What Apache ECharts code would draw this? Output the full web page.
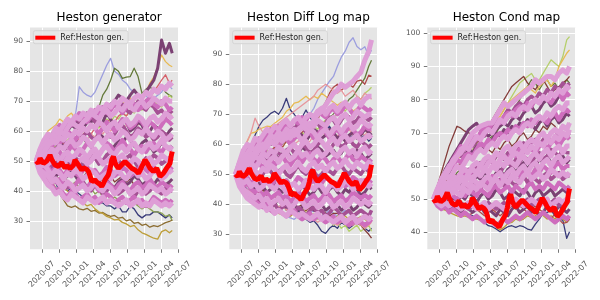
<!DOCTYPE html>
<html><head><meta charset="utf-8">
<script src="https://cdn.jsdelivr.net/npm/echarts@6/dist/echarts.min.js"></script>
<style>html,body{margin:0;padding:0;background:#fff}#c{width:600px;height:300px}</style>
</head><body><div id="c"></div>
<script>
// ---- shared dates ----
const dates = ['2020-06-01','2020-06-22','2020-07-13','2020-08-03','2020-08-24','2020-09-14','2020-10-05','2020-10-26','2020-11-16','2020-12-07','2020-12-28','2021-01-18','2021-02-08','2021-03-01','2021-03-22','2021-04-12','2021-05-03','2021-05-24','2021-06-14','2021-07-05','2021-07-26','2021-08-16','2021-09-06','2021-09-27','2021-10-18','2021-11-08','2021-11-29','2021-12-20','2022-01-10','2022-01-31','2022-02-21','2022-03-14','2022-04-04','2022-04-25','2022-05-16','2022-05-31'];
const xTickLabels = ['2020-07','2020-10','2021-01','2021-04','2021-07','2021-10','2022-01','2022-04','2022-07'];
const titles = ['Heston generator','Heston Diff Log map','Heston Cond map'];
const refName = 'Ref:Heston gen.';
const yTicksGen = [30,40,50,60,70,80,90];
const yTicksDiff = [30,40,50,60,70,80,90];
const yTicksCond = [40,50,60,70,80,90,100];

// ---- reference path (same in all panels) ----
const refDates = ['2020-06-01','2020-06-08','2020-06-13','2020-06-22','2020-07-01','2020-07-10','2020-07-19','2020-07-28','2020-08-06','2020-08-14','2020-08-24','2020-09-02','2020-09-10','2020-09-19','2020-09-28','2020-10-07','2020-10-16','2020-10-25','2020-11-03','2020-11-12','2020-11-21','2020-11-30','2020-12-09','2020-12-18','2020-12-26','2021-01-04','2021-01-13','2021-01-22','2021-01-31','2021-02-09','2021-02-18','2021-02-27','2021-03-08','2021-03-17','2021-03-26','2021-04-04','2021-04-12','2021-04-21','2021-04-30','2021-05-09','2021-05-18','2021-05-27','2021-06-05','2021-06-14','2021-06-23','2021-07-02','2021-07-11','2021-07-20','2021-07-29','2021-08-07','2021-08-16','2021-08-25','2021-09-02','2021-09-11','2021-09-20','2021-09-29','2021-10-08','2021-10-17','2021-10-26','2021-11-04','2021-11-13','2021-11-22','2021-12-01','2021-12-10','2021-12-19','2021-12-28','2022-01-05','2022-01-14','2022-01-23','2022-02-01','2022-02-10','2022-02-19','2022-02-28','2022-03-09','2022-03-18','2022-03-27','2022-04-05','2022-04-14','2022-04-23','2022-05-01','2022-05-10','2022-05-19','2022-05-25','2022-05-31'];
const refVals = [50,50.5,49.2,50.9,50,49.2,49.8,50,51,52,50.4,49.5,48.7,48.9,48.2,48.6,49.5,48.4,47.6,48.5,48.2,47.5,47,48.6,50.4,49.8,48.7,47.8,47,47.8,47.6,47.2,46.5,45,43.1,43.4,43.7,43,42.6,42.2,41.5,42.5,43.7,44.2,45.4,47.5,50.4,51.5,49.3,48.3,47.6,48.2,48.7,49.3,49.8,49.2,48.7,48.2,47.6,47.3,47,46.5,45.9,46.9,48.2,49.2,50.4,49.8,48.6,47.6,47,46.5,47,47.6,46.2,44.8,45.4,45.9,46.8,47.6,48.4,49.2,51.5,53.2];

// ---- panel 1: Heston generator ----
const g00 = [50,49,47,46,44,43,39,41,40,41,40,39,38,38,37,37,36,36,35,35,34,35,33,33,35,34,32,31,32,32,33,33,32,31,32,31];
const g01 = [50,52,53,55,56,55,57,58,60,62,65,74.8,73,72,71.4,73,76,79,82,84.3,80,79,77,76,74,73,72,71,72,70,71,72,73,75.4,75,74];
const g02 = [50,51,53,54,53,55,56,57,58,59,60,61,62,63,64,66,68,72,74,77,81,80,77.6,78,78.2,81,78.2,72.6,74,75,73,74,75,73,72,71.5];
const g03 = [50,49,48,47,46,45,44,45,43,42,43,41,42,40,41,39,40,38,39,37,38,37,36,37,35,36,35,34,35,34,33,33,32.6,31.5,32,30];
const g04 = [50,51,52,53,54,55,54,56,57,58,57,59,60,59,61,62,61,63,64,63,65,64,66,65,67,66,68,67,69,68,70,69,68,70,72,71];
const g05 = [50,48,47,45,43,41,39,37,35,34.5,35,34,33.7,34.2,33.2,33.5,32.6,32.8,32,31.5,31.8,30.9,31.2,30,30.4,29.2,29.5,28.5,28.9,27.9,28.4,28.1,28.7,29.4,29.8,30.3];
const g06 = [50,48,47,46,44,43,42,41,40,39,38,37,36,35,35.5,34,33,32.5,31.5,31,30.3,30.5,29.5,29,28.1,28.5,27,26,25.5,24.8,24.2,23.9,26.4,27,26,26.8];
const g07 = [50,54,57,60,61,62,64,63,65,66,64,65,63,64,65,66,67,66,68,69,70,68,69,70,71,70,72,71.4,73,76,78,81.4,85.4,83.2,82,81.5];
const g08 = [50,49,51,50,52,51,50,49,51,50,48,49,47,48,46,47,45,46,44,45,43,44,45,43,44,42,43,41,42,43,41,42,40,41,42,40];
const g09 = [50,52,51,53,54,53,55,56,55,57,58,57,59,60,59,61,62,61,63,64,63,65,66,65,67,68,69,68,70,71,73,75,77,78.8,76,77];
const g10 = [50,51,53,52,54,53,55,54,56,55,57,56,58,57,59,58,60,59,61,60,62,61,60,62,61,63,62,64,63,65,64,63,65,64,66,65];
const g11 = [50,53,55,57,59,61,62,61,60,62,61,63,62,64,63,65,66,68,67,69,70,72,71,70,72,73.7,72,71.4,73,75,77,81,90.4,86,89.3,86];
const g12 = [50,53,55,54,57,59,58,61,60,63,62,64,61,63,65,64,62,63,66,64,61,62,64,63,60,61,63,62,59,60,62,61,59,58,60,61];
const g13 = [50,51,50,53,52,54,56,55,53,55,57,56,58,56,55,57,59,58,56,54,55,57,56,58,57,55,54,56,57,55,53,54,56,55,54,55];
const g14 = [50,48,49,46,47,45,46,44,45,47,45,43,44,46,44,42,43,45,44,42,41,43,44,42,43,45,44,42,43,41,42,44,43,42,43,44];
const g15 = [50,53,56,55,58,60,59,62,61,63,65,63,64,66,65,63,66,68,67,65,66,68,69,67,66,68,70,68,67,69,68,66,67,65,67,66];
const g16 = [50,52,51,54,55,53,56,57,55,58,57,59,58,60,58,57,59,61,60,58,59,61,62,60,58,59,61,60,58,59,57,58,60,59,57,58];
const g17 = [50,49,51,50,48,49,51,52,50,49,51,50,48,50,52,51,49,50,52,53,51,50,49,51,52,50,48,49,51,50,52,51,49,50,51,50];
const g18 = [50,47,46,44,45,43,42,43,41,42,40,41,43,41,40,42,41,39,40,42,41,39,40,41,39,38,40,41,39,40,42,40,39,41,40,40];
const g19 = [50,54,56,58,57,60,62,61,63,62,64,66,65,63,65,67,66,68,66,67,69,68,66,68,70,69,67,68,70,71,69,68,70,69,67,68];
const g20 = [50,52,54,53,55,57,56,58,60,59,57,59,61,60,62,61,59,61,63,62,60,62,64,63,61,62,64,63,61,63,62,60,62,64,63,62];
const g21 = [50,51,53,51,52,54,53,51,53,55,54,52,54,56,55,53,52,54,56,55,53,55,57,55,54,52,54,55,53,55,56,54,53,55,54,54];
const g22 = [50,49,47,48,46,48,47,45,47,48,46,45,47,48,46,47,45,46,48,47,45,46,48,47,45,46,47,49,47,46,48,46,45,47,48,47];
const g23 = [50,48,46,47,44,43,44,42,43,41,42,44,42,41,43,42,40,41,43,42,40,42,43,41,40,42,43,41,42,44,42,41,43,42,41,42];
const g24 = [50,47,45,43,42,40,41,39,38,40,39,37,38,39,37,38,36,37,39,38,36,37,38,36,37,38,36,37,35,36,38,37,36,37,36,37];
const g25 = [50,54,57,59,58,61,60,62,64,63,65,64,66,65,67,66,68,67,69,68,70,69,71,70,69,71,72,71,73,72,74,73,75,74,76,75];
const g26 = [50,53,55,57,56,58,60,59,61,63,62,61,63,64,66,65,64,66,67,65,66,68,67,69,68,67,69,70,68,69,71,70,69,71,70,70];
const g27 = [50,52,53,55,57,56,58,57,59,58,60,59,61,60,62,61,63,62,60,62,63,61,63,64,62,63,65,64,62,64,65,63,64,66,65,64];
const g28 = [50,51,53,52,54,53,55,54,56,57,55,56,58,57,55,57,58,56,58,59,57,58,60,59,57,58,60,59,61,59,58,60,59,57,58,59];
const g29 = [50,52,50,51,53,52,50,52,53,51,52,54,53,51,53,54,52,54,55,53,52,54,55,53,55,56,54,53,55,56,54,55,57,55,54,55];
const g30 = [50,49,51,49,50,52,50,49,51,50,48,50,51,49,50,52,51,49,50,51,49,51,52,50,49,51,50,48,50,51,49,50,52,51,50,51];
const g31 = [50,48,49,47,45,47,46,44,46,45,47,46,44,45,47,46,44,45,46,44,46,47,45,44,46,47,45,46,44,45,47,46,44,45,47,46];
const g32 = [50,47,46,45,43,44,42,41,43,42,40,41,42,40,41,43,41,40,42,41,39,40,42,41,39,40,41,39,40,42,41,40,41,39,40,41];
const g33 = [50,46,44,42,41,39,40,38,37,39,38,37,36,38,37,36,37,38,36,37,36,35,36,37,35,36,37,35,36,35,37,36,35,36,35,36];
const genLines = [g00,g01,g02,g03,g04,g05,g06,g07,g08,g09,g10,g11,g12,g13,g14,g15,g16,g17,g18,g19,g20,g21,g22,g23,g24,g25,g26,g27,g28,g29,g30,g31,g32,g33];
const genColors = ['#393b79','#9c9ede','#637939','#8ca252','#b5cf6b','#8c6d31','#bd9e39','#e7ba52','#843c39','#d6616b','#e7969c','#7b4173',
 '#7b4173','#7b4173','#7b4173','#a55194','#a55194','#a55194','#a55194','#ce6dbd','#ce6dbd','#ce6dbd','#ce6dbd','#ce6dbd','#ce6dbd',
 '#de9ed6','#de9ed6','#de9ed6','#de9ed6','#de9ed6','#de9ed6','#de9ed6','#de9ed6','#de9ed6'];

// ---- panel 2: Heston Diff Log map ----
const d00 = [50,53,56,58,60,63,66,68,69,70.3,71,70,72,75.3,71.4,70,68,69,71.4,69,67,68,66,65,66,64,65,63,64,62,63,64,62,63,61,62];
const d01 = [50,48,46,45,44,43,42,43,41,40,41,39,40,38,39,37,38,36,35,34,34.5,33,31,30.3,32,33,32,34,33,32,33,34,33,32,31,32];
const d02 = [50,52,53,55,56,57,58,59,58,60,61,62,63,64,63,65,66,67,68,70,72,75,77,79,81,82.6,86,89,91,94,95.5,92.6,91.5,92.5,89.5,91.4];
const d03 = [50,48,47,45,44,43,42,41,40,39,38,37,37,36,35.5,35,36,37,36,37,38,37,36,37,38,37,36,37,38,37,36,37,38,37,36,37];
const d04 = [50,51,53,52,54,55,56,55,57,58,57,59,60,61,60,62,63,62,64,65,66,67,66,68,69,70,72,71,73,75,76,78,80,82,86,88];
const d05 = [50,52,51,53,54,56,55,57,58,57,59,60,59,61,62,61,63,64,63,65,66,65,67,68,67,69,70,72,71,73,74,76,75,77,78,79];
const d06 = [50,49,48,46,47,45,44,45,43,42,43,41,40,41,39,40,38,39,37,36,37,35,36,34,35,33,34,32,33,31,32,33,31,32,33,31];
const d07 = [50,47,45.9,44,42.6,41.5,40.5,40,39.2,38,37.5,37,36.5,36.4,36,37,36,37,38,37,36,37,38,37,36,35,36,37,36,35,34,35,36,35,34,35];
const d08 = [50,54,58,61,63.7,64,65,65.5,66,65.9,67,68,69,71,72,73.7,74,75,76,74.8,76,75.3,77,76,75,74,73,74,72,73,71,72,73,72,71,72];
const d09 = [50,49,48,47,46,45,44,45,43,42,43,41,42,40,41,40,39,40,38,39,38,37,38,37,36,37,37,35.9,35,34,34.5,33.7,33,31.4,30,28.7];
const d10 = [50,52,51,53,55,54,56,57,56,58,59,60,59,61,62,63,62,64,65,66,67,68,72,74,77,79,80,78,79,80,79,81,81.4,80,83,82.6];
const d11 = [50,54,58,61,64,68.7,66,64,65,63,64,62,63,61,62,60,61,62,60,61,63,62,64,63,62,61,63,62,64,65,63,62,64,63,65,64];
const d12 = [50,48,46,45,44,43,42,41,42,40,41,39,40,38,39,38,37,36,35,36,35,34,35,36,35,34,33,34,35,34,33,34,33,32,33,34];
const d13 = [50,52,54,56,58,60,62,63,64,65,66,67,68,69,70,71,72,73,74,75,76,78,79,80,79,78,77,78,76,77,78,76,75,77,76,75];
const d14 = [50,52,55,54,56,58,57,59,61,60,62,61,63,62,60,62,64,63,61,63,65,64,62,63,65,64,62,63,61,63,64,62,63,65,64,63];
const d15 = [50,51,53,52,54,53,55,56,54,56,57,55,57,58,56,55,57,59,58,56,57,59,58,56,57,58,56,57,59,57,56,58,57,55,56,57];
const d16 = [50,47,45,44,43,41,42,40,41,39,40,42,40,39,41,40,38,39,41,40,38,39,40,38,39,41,40,38,39,40,38,39,41,40,39,40];
const d17 = [50,48,47,48,46,45,47,46,44,45,47,45,44,46,45,43,44,46,45,43,44,46,44,43,45,46,44,43,45,44,46,45,43,44,46,45];
const d18 = [50,53,56,58,57,60,59,61,63,62,64,63,65,64,66,65,67,66,64,66,68,67,65,67,69,68,66,68,70,69,67,68,70,69,68,69];
const d19 = [50,52,51,53,55,54,56,55,57,56,58,57,56,58,59,57,58,60,59,57,58,60,61,59,58,60,61,59,60,62,60,59,61,60,59,60];
const d20 = [50,49,51,50,52,51,49,50,52,51,49,51,52,50,49,51,53,51,50,52,51,49,50,52,51,50,52,53,51,50,52,51,50,52,51,51];
const d21 = [50,47,46,44,42,43,41,40,41,39,40,38,39,40,38,37,39,38,36,38,39,37,38,36,37,39,38,36,37,38,36,37,38,37,36,38];
const d22 = [50,54,57,59,58,61,62,61,63,65,64,66,65,67,66,68,67,69,68,70,69,71,70,69,71,72,70,71,73,72,70,71,73,72,71,72];
const d23 = [50,52,54,56,55,57,58,57,59,61,60,59,61,62,60,62,63,61,63,64,62,63,65,64,62,64,65,63,64,66,65,63,64,66,65,65];
const d24 = [50,51,53,52,51,53,54,52,54,55,53,55,56,54,53,55,56,54,56,57,55,54,56,55,53,55,56,54,55,57,55,54,56,55,54,55];
const d25 = [50,49,48,49,47,48,49,47,48,46,48,49,47,48,46,47,49,48,46,47,48,46,47,49,48,46,47,48,46,47,49,48,47,48,47,48];
const d26 = [50,48,46,47,45,44,45,43,44,42,43,44,42,43,41,42,44,43,41,42,43,41,42,44,43,41,42,43,41,42,44,43,42,43,42,43];
const d27 = [50,47,45,43,42,41,40,39,40,38,37,38,37,36,37,38,36,35,36,37,35,36,35,34,35,36,34,35,34,33,34,35,34,33,34,35];
const d28 = [50,54,58,60,59,62,61,63,65,64,66,65,67,68,66,68,69,67,69,70,69,71,72,70,72,73,71,73,74,72,74,75,73,75,76,76];
const d29 = [50,53,55,57,59,58,60,59,61,63,62,64,63,65,64,63,65,66,65,67,66,68,67,66,68,69,67,69,70,68,69,71,70,69,70,70];
const d30 = [50,52,54,55,57,56,58,60,59,61,60,62,61,63,62,64,63,61,63,65,64,62,64,65,63,65,66,64,66,67,65,66,68,67,66,67];
const d31 = [50,51,53,55,54,56,55,57,56,58,57,59,58,57,59,60,58,60,61,59,60,62,61,59,61,62,60,62,63,61,62,63,61,62,63,62];
const d32 = [50,52,51,53,54,52,54,55,53,55,56,54,56,57,55,56,58,56,57,55,57,58,56,57,59,57,56,58,59,57,58,56,58,59,57,58];
const d33 = [50,49,51,50,52,51,50,52,51,53,52,50,52,53,51,52,54,52,51,53,54,52,53,51,53,54,52,53,55,53,52,54,53,52,54,53];
const d34 = [50,48,47,48,46,47,45,46,48,46,45,47,46,44,46,47,45,46,48,46,45,47,46,44,46,47,45,46,48,47,45,46,48,47,46,47];
const d35 = [50,47,45,44,43,42,43,41,42,40,41,42,40,41,39,40,42,41,39,40,41,39,40,42,41,39,40,41,39,40,42,41,40,41,40,41];
const d36 = [50,46,44,42,41,40,39,40,38,39,37,38,37,36,38,37,36,37,36,35,36,37,35,36,35,34,35,36,34,35,36,34,35,36,35,36];
const d37 = [50,52,54,56,55,57,59,58,60,61,60,62,63,62,64,65,64,66,67,66,68,70,71,73,75,77,78,80,79,80,81,82.6,84,88,91,94.8];
const diffLines = [d00,d01,d02,d03,d04,d05,d06,d07,d08,d09,d10,d11,d12,d13,d14,d15,d16,d17,d18,d19,d20,d21,d22,d23,d24,d25,d26,d27,d28,d29,d30,d31,d32,d33,d34,d35,d36,d37];
const diffColors = ['#393b79','#393b79','#9c9ede','#9c9ede','#637939','#b5cf6b','#b5cf6b','#bd9e39','#e7ba52','#843c39','#ad494a','#e7969c','#e7969c','#e7969c',
 '#7b4173','#7b4173','#7b4173','#7b4173','#a55194','#a55194','#a55194','#a55194','#ce6dbd','#ce6dbd','#ce6dbd','#ce6dbd','#ce6dbd','#ce6dbd',
 '#de9ed6','#de9ed6','#de9ed6','#de9ed6','#de9ed6','#de9ed6','#de9ed6','#de9ed6','#de9ed6','#de9ed6'];

// ---- panel 3: Heston Cond map ----
const c00 = [50,49,48.5,48,48,47.5,47.7,47,46,45.5,45,44.7,44,43,42,41.7,41,40.2,41,41.7,42,41.5,42,41.7,41,40.7,42.5,44,45.7,46,46.7,45,44,43.7,38.2,40.2];
const c01 = [50,51,52,54,55,56,58,59,61,62,63,64,65,66,68,69,70,72,73,74,76,78,80,82,84,86,85,83,85,86,84,85,83,84,86,85];
const c02 = [50,52,53,55,56,58,59,61,62,64,65,67,68,69,71,72,73,75,77,79,81,83,85,86,87,87.9,86,85.9,88,90,92,91,90,93,98,99];
const c03 = [50,48,47,46.7,46,45.5,45,44.7,45,44.5,44,44,43.7,43.5,43,42.5,41.5,40.7,41.5,42.7,43,44,43.5,44,45,44.5,45,46,45,44,45,44,45,44,43,44];
const c04 = [50,52,54,56,58,60,62,63,65,66,68,69,70,71,72,73,74,75,77,79,80,81,82,83,84,83,82,84,85,86,84,86,90,92,94,95];
const c05 = [50,54,58,62,66,69,72,71.4,70.5,70,69,68,67,66,65,64,66,65,67,68,66,67,69,70,68,69,71,70,72,71,73,72,70,71,72,73];
const c06 = [50,52,54,55,57,58,60,61,63,64,66,67,69,70,72,74,76,78,80,82,84,85,86,87,85,84,83,85,86,84,82,83,84,85,86,87];
const c07 = [50,49,48,47,48,47,46,47,46,45,46,47,46,45,46,47,46,45,46,47,48,47,48,47,46,47,48,47,46,45,44,45.7,44,42.7,43,44];
const c08 = [50,53,56,59,61,63,65,67,69,71,72,72.9,71,70,69,70,71,72,73,72,74,75,74,76,77,78,76,77,79,80,78,79,81,82,83,84];
const c09 = [50,53,55,57,58,60,62,61,63,65,64,66,67,65,67,68,70,69,71,70,72,71,73,72,74,73,71,73,74,72,74,75,73,74,76,75];
const c10 = [50,52,51,53,54,53,55,54,56,57,55,57,56,58,57,56,58,59,57,59,60,58,60,61,59,61,60,62,61,63,61,60,62,63,61,62];
const c11 = [50,49,50,49,51,50,49,51,50,52,51,49,51,52,50,51,53,52,50,51,53,52,51,53,52,50,52,53,51,52,53,51,52,53,52,52];
const c12 = [50,48,49,48,47,48,47,46,48,47,46,47,48,46,47,46,45,47,46,45,47,48,46,47,48,46,47,45,46,48,47,46,48,47,46,47];
const c13 = [50,53,56,58,60,62,64,63,65,67,66,68,70,69,71,72,74,73,75,77,76,78,79,78,80,81,80,82,81,83,82,84,83,85,84,85];
const c14 = [50,52,54,55,54,56,57,56,58,59,58,60,61,60,62,61,63,64,62,64,65,64,66,67,65,67,68,66,68,69,67,69,70,68,69,70];
const c15 = [50,51,53,52,54,53,55,56,55,57,56,58,57,59,58,60,59,58,60,61,60,62,61,63,62,61,63,64,62,63,65,64,63,65,64,64];
const c16 = [50,51,50,52,51,53,52,51,53,54,52,54,53,55,54,53,55,56,54,56,55,54,56,57,55,57,56,55,57,58,56,57,58,56,57,57];
const c17 = [50,49,48,49,48,47,48,49,48,47,48,49,47,48,49,48,47,48,49,48,50,49,48,49,50,48,49,50,49,48,49,50,48,49,50,49];
const c18 = [50,53,56,58,60,62,64,66,65,67,69,68,70,72,71,73,74,73,75,76,75,77,78,77,79,78,80,79,81,80,79,81,82,80,82,81];
const c19 = [50,52,55,57,59,60,62,61,63,64,63,65,67,66,68,67,69,70,69,71,70,72,71,73,72,74,73,75,74,73,75,76,74,76,77,76];
const c20 = [50,52,53,55,54,56,55,57,58,57,59,58,60,59,61,62,60,62,63,62,64,63,65,64,66,65,64,66,67,65,67,68,66,68,69,68];
const c21 = [50,51,52,51,53,52,54,53,55,54,53,55,54,56,55,57,56,55,57,58,56,58,57,59,58,57,59,58,60,59,58,60,61,59,60,60];
const c22 = [50,50,51,50,52,51,50,52,51,53,52,51,53,52,51,53,54,52,53,54,52,54,53,52,54,55,53,54,53,55,54,53,55,54,53,54];
const c23 = [50,48,47,48,46,47,46,45,46,45,44,45,44,43,44,43,42,43,44,43,44,45,44,45,46,45,44,45,46,45,44,43,44,45,44,45];
const c24 = [50,53,55,57,59,61.8,63,65,65.8,68,70,71,72,72.5,72.9,73,75,77,79,78,79,80,81,82,83,84,86,85,86,87,87,86,88,89,88,90];
const c25 = [50,53,56,58,60,61,63,64,66,65,67,69,68,70,71,70,72,74,73,75,76,75,77,78,77,79,80,79,81,80,82,81,83,82,84,83];
const c26 = [50,52,55,57,56,58,60,59,61,63,62,64,65,64,66,67,66,68,69,68,70,71,70,72,73,72,74,75,74,76,75,77,78,77,79,79];
const c27 = [50,52,54,53,55,57,56,58,59,58,60,61,60,62,63,62,64,63,65,66,64,66,67,65,67,68,67,69,70,68,70,71,70,72,71,73];
const c28 = [50,51,53,55,54,56,55,57,56,58,59,58,60,59,61,62,60,62,63,61,63,64,63,65,64,66,65,67,66,68,67,69,68,70,69,71];
const c29 = [50,51,52,54,53,55,54,56,55,57,56,58,57,59,58,60,59,61,60,62,61,60,62,63,61,63,64,62,64,65,63,65,66,64,66,66];
const c30 = [50,50,52,51,53,52,54,53,55,54,56,55,54,56,57,55,57,58,56,58,59,57,59,60,58,60,61,59,61,62,60,62,63,61,62,63];
const c31 = [50,51,50,52,51,53,52,51,53,52,54,53,55,54,53,55,56,54,56,55,57,56,55,57,58,56,57,58,56,57,59,58,57,58,57,58];
const c32 = [50,49,48,49,48,49,48,47,48,49,48,47,48,49,47,48,49,48,47,48,49,50,49,48,49,50,49,48,49,50,48,49,50,49,50,50];
const condLines = [c00,c01,c02,c03,c04,c05,c06,c07,c08,c09,c10,c11,c12,c13,c14,c15,c16,c17,c18,c19,c20,c21,c22,c23,c24,c25,c26,c27,c28,c29,c30,c31,c32];
const condColors = ['#393b79','#637939','#b5cf6b','#bd9e39','#e7ba52','#843c39','#843c39','#ad494a','#7b4173',
 '#7b4173','#7b4173','#7b4173','#7b4173','#a55194','#a55194','#a55194','#a55194','#a55194','#ce6dbd','#ce6dbd','#ce6dbd','#ce6dbd','#ce6dbd','#ce6dbd',
 '#de9ed6','#de9ed6','#de9ed6','#de9ed6','#de9ed6','#de9ed6','#de9ed6','#de9ed6','#de9ed6'];

// ---- layout / style ----
const FONT = 'DejaVu Sans';
const GRIDS = [
  {left:30, top:27.5, width:148.2, height:221.8},
  {left:229.3, top:27.5, width:148.2, height:221.8},
  {left:427.3, top:27.5, width:148.2, height:221.8}
];
const YR = [[20.5,94.6],[25,98.9],[34.9,101.75]];
const YT = [yTicksGen, yTicksDiff, yTicksCond];
const PANELS = [[genLines,genColors],[diffLines,diffColors],[condLines,condColors]];
const xMin = Date.parse('2020-04-29'), xMax = Date.parse('2022-07-02');
const xTickVals = xTickLabels.map(s => Date.parse(s + '-01'));
const xLabelOf = {}; xTickVals.forEach((v,i) => xLabelOf[v] = xTickLabels[i]);
const dateTs = dates.map(d => Date.parse(d));
const refTs = refDates.map(d => Date.parse(d));
const WIDTH = {'#7b4173':3,'#a55194':3.6,'#ce6dbd':4.2,'#de9ed6':5};

const grid = [], xAxis = [], yAxis = [], series = [], title = [], legend = [];
GRIDS.forEach((g,k) => {
  grid.push(Object.assign({show:true, backgroundColor:'#e5e5e5', borderWidth:0, containLabel:false}, g));
  xAxis.push({type:'value', gridIndex:k, min:xMin, max:xMax, scale:true,
    axisLine:{show:false},
    axisTick:{show:true, length:3.5, customValues:xTickVals, lineStyle:{color:'#555', width:0.8}},
    axisLabel:{customValues:xTickVals, formatter:v => xLabelOf[v] || '', rotate:45, align:'center', verticalAlign:'middle',
      margin:25, fontSize:8, color:'#555', fontFamily:FONT, hideOverlap:false},
    splitLine:{show:true, lineStyle:{color:'#ffffff', width:1}}});
  yAxis.push({type:'value', gridIndex:k, min:YR[k][0], max:YR[k][1],
    axisLine:{show:false},
    axisTick:{show:true, length:3.5, customValues:YT[k], lineStyle:{color:'#555', width:0.8}},
    axisLabel:{customValues:YT[k], margin:7, fontSize:7.5, color:'#555', fontFamily:FONT},
    splitLine:{show:true, lineStyle:{color:'#ffffff', width:1}}});
  title.push({text:titles[k], left:g.left + g.width/2, top:7, textAlign:'center',
    textStyle:{fontSize:12, fontWeight:'normal', color:'#000', fontFamily:FONT}});
  const [lines, colors] = PANELS[k];
  lines.forEach((vals,i) => {
    const col = colors[i];
    series.push({type:'line', xAxisIndex:k, yAxisIndex:k, data:vals.map((v,j) => [dateTs[j], v]),
      showSymbol:false, symbol:'none', silent:true, animation:false,
      lineStyle:{color:col, width: WIDTH[col] || 1.3, join:'round'}, itemStyle:{color:col}, z:2});
  });
  series.push({type:'line', name:refName, xAxisIndex:k, yAxisIndex:k, data:refVals.map((v,j) => [refTs[j], v]),
    showSymbol:false, symbol:'none', silent:true, animation:false,
    lineStyle:{color:'#ff0000', width:5}, itemStyle:{color:'#ff0000'}, z:3});
  legend.push({data:[{name:refName, icon:'rect'}], left:g.left + 3.3, top:30.7, orient:'horizontal',
    itemWidth:20, itemHeight:4, itemGap:5, padding:[3,4,2,2],
    backgroundColor:'rgba(232,232,232,0.85)', borderColor:'#d4d4d4', borderWidth:1, borderRadius:2,
    textStyle:{fontSize:8, color:'#222', fontFamily:FONT}, selectedMode:false, z:10});
});

const chart = echarts.init(document.getElementById('c'), null, {renderer:'canvas'});
chart.setOption({animation:false, backgroundColor:'#ffffff', textStyle:{fontFamily:FONT}, grid, xAxis, yAxis, series, title, legend});
</script>
</body></html>
